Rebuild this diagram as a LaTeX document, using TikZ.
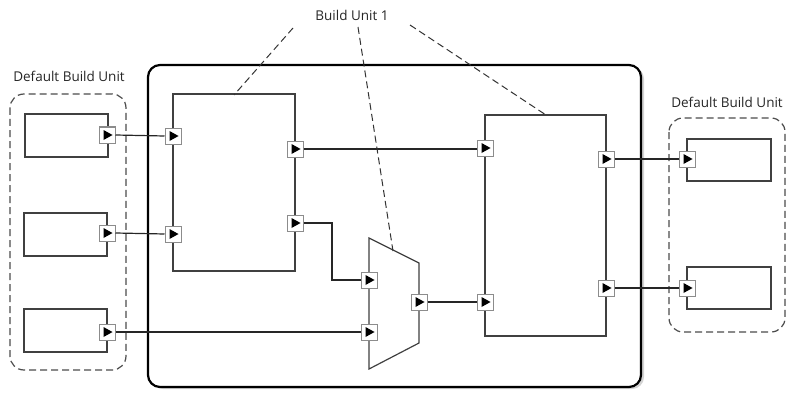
\documentclass[tikz,border=0pt]{standalone}
\usepackage{fontspec}
\setmainfont{Open Sans}
\usetikzlibrary{shadows}
\begin{document}
\begin{tikzpicture}[x=1pt,y=-1pt,
  port/.style={draw=black!45,fill=white,line width=1pt,minimum size=16pt,inner sep=0pt,
    path picture={\fill[black] ([xshift=-3.5pt,yshift=5pt]path picture bounding box.center) -- ([xshift=5.5pt]path picture bounding box.center) -- ([xshift=-3.5pt,yshift=-5pt]path picture bounding box.center) -- cycle;}},
  blk/.style={draw=black!75,line width=1.2pt},
  wire/.style={draw=black!85,line width=1.2pt},
  grp/.style={draw=black!70,line width=1.2pt,dash pattern=on 7pt off 4pt,rounded corners=14pt},
  call/.style={draw=black!80,line width=1pt,dash pattern=on 7pt off 4pt},
  lbl/.style={font=\fontsize{13.5}{15}\selectfont,text=black!85,inner sep=1pt}]
\useasboundingbox (0,0) rectangle (789,393);
% main build unit
\draw[line width=2.2pt,rounded corners=12pt,fill=white,drop shadow={opacity=0.35,shadow xshift=3pt,shadow yshift=-2pt}] (148,65) rectangle (641,387);
% groups
\draw[grp] (10,94) rectangle (126,370);
\draw[grp] (669,118) rectangle (785,332);
\node[lbl] (dl) at (69,76) {Default Build Unit};
\node[lbl] (dr) at (727,102) {Default Build Unit};
\node[lbl] (bu) at (352,15) {Build Unit 1};
% left boxes
\draw[blk] (25,114) rectangle (108,157);
\draw[blk] (24,213) rectangle (107,256);
\draw[blk] (24,309) rectangle (107,352);
% right boxes
\draw[blk] (687,139) rectangle (771,181);
\draw[blk] (687,267) rectangle (771,309);
% inner boxes
\draw[blk] (173,94) rectangle (295,271);
\draw[blk] (485,115) rectangle (606,336);
% mux
\draw[blk] (369,238) -- (419,263) -- (419,343) -- (369,369) -- cycle;
% ports
\node[port] (lp1) at (107,135) {};
\node[port] (lp2) at (107,233) {};
\node[port] (lp3) at (107,332) {};
\node[port] (il1) at (173,136) {};
\node[port] (il2) at (173,234) {};
\node[port] (ir1) at (295,149) {};
\node[port] (ir2) at (295,223) {};
\node[port] (m1) at (369,280) {};
\node[port] (m2) at (369,332) {};
\node[port] (mo) at (419,302) {};
\node[port] (rl1) at (485,148) {};
\node[port] (rl2) at (485,302) {};
\node[port] (rr1) at (606,159) {};
\node[port] (rr2) at (606,288) {};
\node[port] (gp1) at (687,159) {};
\node[port] (gp2) at (687,288) {};
% wires
\draw[wire] (lp1.east) -- (il1.west);
\draw[wire] (lp2.east) -- (il2.west);
\draw[wire] (lp3.east) -- (m2.west);
\coordinate (bend) at (332,223);
\draw[wire] (ir2.east) -- (bend) |- (m1.west);
\draw[wire] (ir1.east) -- (ir1.east -| rl1.west);
\draw[wire] (mo.east) -- (rl2.west);
\draw[wire] (rr1.east) -- (gp1.west);
\draw[wire] (rr2.east) -- (gp2.west);
% callouts
\coordinate (c1) at (293,28);
\coordinate (c2) at (358,27);
\coordinate (c3) at (410,25);
\coordinate (t1) at (234,95);
\coordinate (t2) at (393,251);
\coordinate (t3) at (546,115);
\draw[call] (c1) -- (t1);
\draw[call] (c2) -- (t2);
\draw[call] (c3) -- (t3);
\end{tikzpicture}
\end{document}
